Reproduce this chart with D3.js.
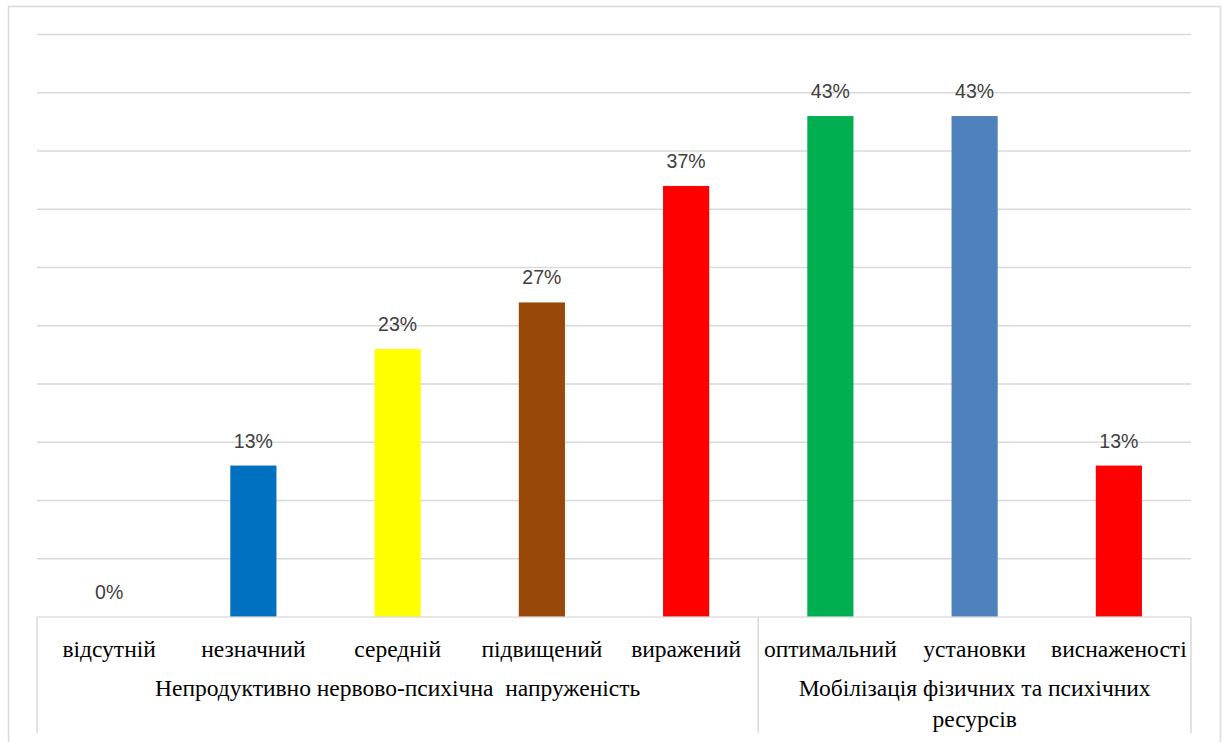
<!DOCTYPE html>
<html>
<head>
<meta charset="utf-8">
<script src="https://cdn.jsdelivr.net/npm/d3@7"></script>
<style>
  html, body { margin: 0; padding: 0; background: #fff; }
  svg { display: block; }
</style>
</head>
<body>
<svg id="chart" width="1222" height="742"></svg>
<script>
// Category labels (bottom row) and their values in percent
const categories = ["відсутній", "незначний", "середній", "підвищений", "виражений",
                    "оптимальний", "установки", "виснаженості"];
const values = [0, 13, 23, 27, 37, 43, 43, 13];
const barColors = ["#0070C0", "#0070C0", "#FFFF00", "#984807", "#FF0000",
                   "#00B050", "#4F81BD", "#FF0000"];
// Group labels spanning several categories
const groupNames = [["Непродуктивно нервово-психічна  напруженість"],
                    ["Мобілізація фізичних та психічних", "ресурсів"]];
const groupSpans = [[0, 4], [5, 7]];
const yTicks = [0, 5, 10, 15, 20, 25, 30, 35, 40, 45, 50];

const svg = d3.select("#chart");
const plot = { left: 37, right: 1191, top: 34.5, bottom: 617 };
const serif = "'Liberation Serif', 'Times New Roman', serif";

// Outer frame
svg.append("rect")
  .attr("x", 8.5).attr("y", 6.5)
  .attr("width", 1212).attr("height", 760)
  .attr("fill", "none").attr("stroke", "#d9d9d9").attr("stroke-width", 1.5);

const x = d3.scaleBand().domain(categories)
  .range([plot.left, plot.right]).paddingInner(0.68).paddingOuter(0.34);
const y = d3.scaleLinear().domain([0, 50]).range([plot.bottom, plot.top]);

// Horizontal gridlines
svg.append("g").selectAll("line").data(yTicks.filter(d => d > 0)).join("line")
  .attr("x1", plot.left).attr("x2", plot.right)
  .attr("y1", d => y(d)).attr("y2", d => y(d))
  .attr("stroke", "#d9d9d9").attr("stroke-width", 1.5);

// Bars
svg.append("g").selectAll("rect").data(categories).join("rect")
  .attr("x", d => x(d))
  .attr("width", x.bandwidth())
  .attr("y", (d, i) => y(values[i]))
  .attr("height", (d, i) => y(0) - y(values[i]))
  .attr("fill", (d, i) => barColors[i]);

// Baseline drawn over the bars
svg.append("line")
  .attr("x1", plot.left).attr("x2", plot.right)
  .attr("y1", y(0)).attr("y2", y(0))
  .attr("stroke", "#d9d9d9").attr("stroke-width", 1.5).attr("stroke-opacity", 0.85);

// Value labels
svg.append("g").selectAll("text").data(categories).join("text")
  .attr("x", d => x(d) + x.bandwidth() / 2)
  .attr("y", (d, i) => y(values[i]) - 18)
  .attr("text-anchor", "middle")
  .attr("font-family", "'Liberation Sans', Arial, sans-serif")
  .attr("font-size", 19.5)
  .attr("fill", "#404040")
  .text((d, i) => values[i] + "%");

// Category axis table: vertical separators
const step = x.step();
const bandStart = i => plot.left + i * step;
const seps = [0, groupSpans[1][0], categories.length];
svg.append("g").selectAll("line").data(seps).join("line")
  .attr("x1", i => bandStart(i)).attr("x2", i => bandStart(i))
  .attr("y1", plot.bottom).attr("y2", 733)
  .attr("stroke", "#d9d9d9").attr("stroke-width", 1.5);

// Category labels
svg.append("g").selectAll("text").data(categories).join("text")
  .attr("x", d => x(d) + x.bandwidth() / 2)
  .attr("y", 657)
  .attr("text-anchor", "middle")
  .attr("font-family", serif)
  .attr("font-size", 23.5)
  .attr("fill", "#000")
  .text(d => d);

// Group labels
const gl = svg.append("g");
groupNames.forEach((lines, gi) => {
  const [a, b] = groupSpans[gi];
  const cx = (bandStart(a) + bandStart(b + 1)) / 2;
  const t = gl.append("text")
    .attr("text-anchor", "middle")
    .attr("font-family", serif)
    .attr("font-size", 23.5)
    .attr("fill", "#000")
    .style("white-space", "pre");
  lines.forEach((ln, li) => {
    t.append("tspan").attr("x", cx).attr("y", 696 + li * 31).text(ln);
  });
});
</script>
</body>
</html>
